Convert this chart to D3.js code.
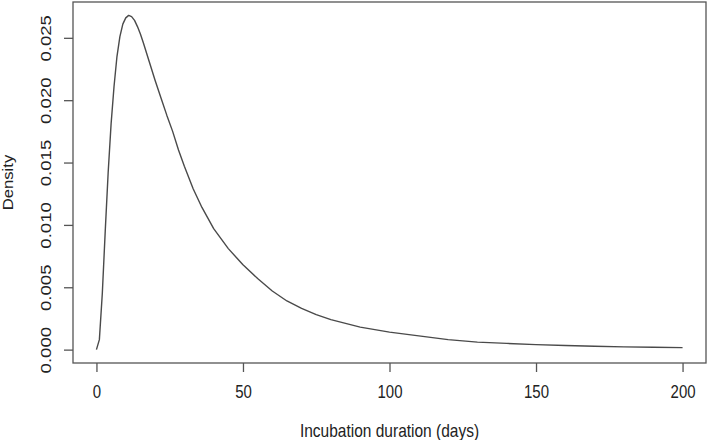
<!DOCTYPE html>
<html>
<head>
<meta charset="utf-8">
<script src="https://cdn.jsdelivr.net/npm/d3@7"></script>
<style>
  html, body { margin: 0; padding: 0; background: #fff; }
  svg { display: block; }
  text { font-family: "Liberation Sans", Arial, sans-serif; fill: #222; }
</style>
</head>
<body>
<svg id="chart" width="709" height="440"></svg>
<script>
// Data
const days = [0, 1, 2, 3, 4, 5, 6, 7, 8, 9, 10, 11, 12, 13, 14, 15, 16, 18, 20, 22, 24, 26, 28, 30, 33, 36, 40, 45, 50, 55, 60, 65, 70, 75, 80, 90, 100, 110, 120, 130, 140, 150, 160, 170, 180, 190, 200];
const density = [0.0000, 0.0008, 0.0045, 0.0095, 0.0142, 0.0181, 0.0211, 0.0235, 0.0251, 0.0261, 0.0266, 0.0268, 0.0267, 0.0264, 0.0259, 0.0253, 0.0246, 0.0231, 0.0216, 0.0202, 0.0188, 0.0175, 0.0160, 0.0147, 0.0129, 0.0114, 0.0097, 0.0081, 0.0068, 0.0057, 0.0047, 0.0039, 0.0033, 0.0028, 0.0024, 0.0018, 0.0014, 0.0011, 0.0008, 0.0006, 0.0005, 0.0004, 0.00033, 0.00027, 0.00022, 0.00019, 0.00016];
const xTicks = [0, 50, 100, 150, 200];
const yTicks = [0.000, 0.005, 0.010, 0.015, 0.020, 0.025];
const xLabel = "Incubation duration (days)";
const yLabel = "Density";

const svg = d3.select("#chart");
const box = { left: 73, right: 706, top: 2, bottom: 363 };

// R-style 4% axis extension
const xMin = 0, xMax = 200;
const yMin = 0, yMax = d3.max(density);
const xPad = (xMax - xMin) * 0.04, yPad = (yMax - yMin) * 0.04;
const x = d3.scaleLinear().domain([xMin - xPad, xMax + xPad]).range([box.left, box.right]);
const y = d3.scaleLinear().domain([yMin - yPad, yMax + yPad]).range([box.bottom, box.top]);

const axisColor = "#555";
const font = "Liberation Sans, Arial, sans-serif";

// Box
svg.append("rect")
  .attr("x", box.left).attr("y", box.top)
  .attr("width", box.right - box.left).attr("height", box.bottom - box.top)
  .attr("fill", "none").attr("stroke", axisColor).attr("stroke-width", 1.3);

// X axis
const xAxis = d3.axisBottom(x).tickValues(xTicks).tickSize(9).tickFormat(d3.format("d"));
const gx = svg.append("g").attr("transform", `translate(0,${box.bottom})`).call(xAxis);
gx.select(".domain").remove();
gx.selectAll(".tick line").attr("stroke", axisColor).attr("stroke-width", 1.3);
gx.selectAll(".tick text")
  .attr("font-size", 15).attr("fill", "#222").attr("font-family", font)
  .attr("y", 0).attr("dy", null)
  .attr("transform", "translate(0,35) scale(1,1.2)");

// Y axis (rotated labels as in R)
const yAxis = d3.axisLeft(y).tickValues(yTicks).tickSize(9).tickFormat(d3.format(".3f"));
const gy = svg.append("g").attr("transform", `translate(${box.left},0)`).call(yAxis);
gy.select(".domain").remove();
gy.selectAll(".tick line").attr("stroke", axisColor).attr("stroke-width", 1.3);
gy.selectAll(".tick text")
  .attr("font-size", 15.5).attr("fill", "#222").attr("font-family", font)
  .attr("x", 0).attr("y", 0).attr("dy", null)
  .attr("text-anchor", "middle")
  .attr("dominant-baseline", "central")
  .attr("transform", "translate(-26.5,0) rotate(-90) scale(1.2,1)");

// Axis titles
svg.append("text")
  .attr("transform", `translate(${(box.left + box.right) / 2},437) scale(1,1.2)`)
  .attr("text-anchor", "middle").attr("font-size", 15.5)
  .text(xLabel);
svg.append("text")
  .attr("transform", `translate(13,${(box.top + box.bottom) / 2}) rotate(-90) scale(1.15,1)`)
  .attr("text-anchor", "middle").attr("font-size", 14.5)
  .text(yLabel);

// Density curve
const line = d3.line().x((d, i) => x(days[i])).y(d => y(d));
svg.append("path")
  .datum(density)
  .attr("d", line)
  .attr("fill", "none")
  .attr("stroke", "#4a4a4a")
  .attr("stroke-width", 1.4)
  .attr("stroke-linejoin", "round");
</script>
</body>
</html>
